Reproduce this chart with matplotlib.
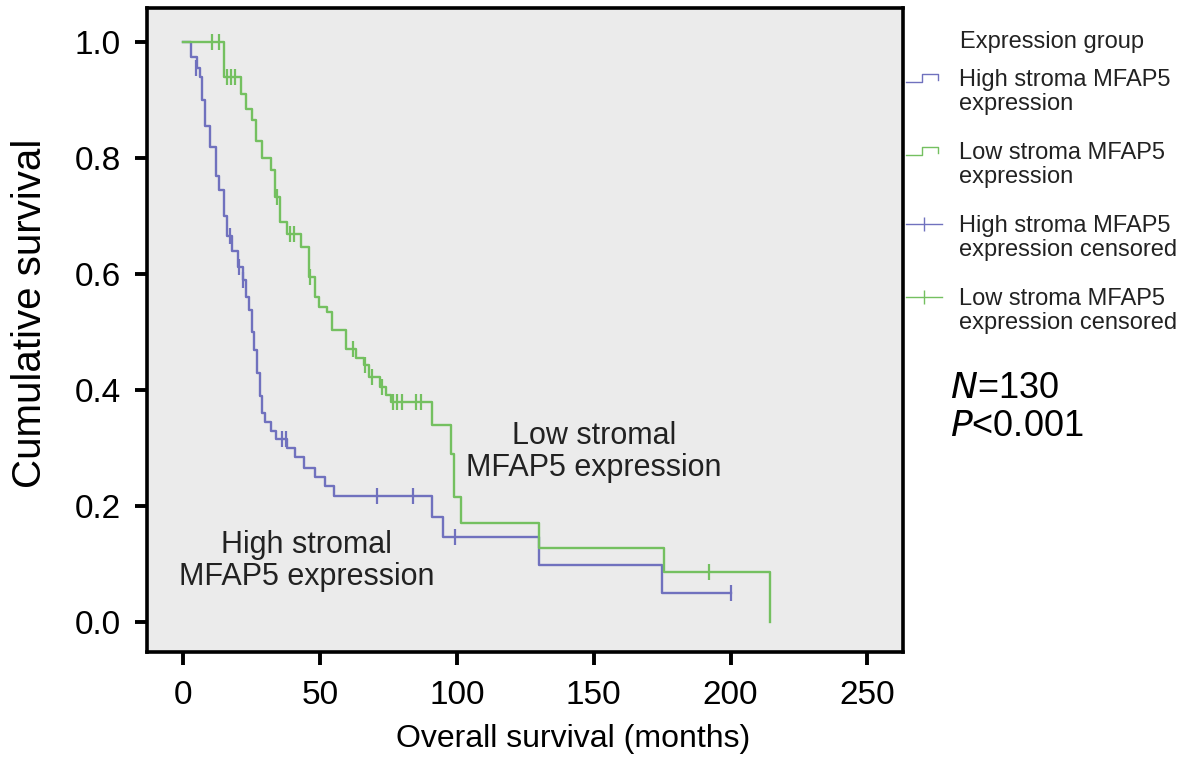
import matplotlib
matplotlib.use("Agg")
import matplotlib.pyplot as plt
from matplotlib.lines import Line2D
from matplotlib.legend_handler import HandlerBase

plt.rcParams['font.family'] = ['Liberation Sans', 'DejaVu Sans']

# Kaplan-Meier steps (months, survival after the step)
high_t = [0, 3, 5, 6, 7, 8, 10, 12, 13, 15, 16, 18, 20, 22, 23, 24, 25, 26, 27,
          28, 29, 30, 32, 34, 38, 41, 44, 48, 52, 55, 91, 95, 130, 175, 200]
high_s = [1.0, 0.975, 0.955, 0.94, 0.90, 0.855, 0.82, 0.77, 0.745, 0.70, 0.665,
          0.64, 0.612, 0.59, 0.56, 0.538, 0.50, 0.469, 0.43, 0.39, 0.36, 0.345,
          0.33, 0.315, 0.30, 0.285, 0.265, 0.25, 0.235, 0.217, 0.181, 0.147,
          0.098, 0.05, 0.05]
high_cens_t = [4.8, 17, 20.5, 22, 36, 37.5, 71, 84, 99.5, 200]
high_cens_s = [0.955, 0.665, 0.612, 0.59, 0.315, 0.315, 0.217, 0.217, 0.147, 0.05]

low_t = [0, 15, 21, 23, 25, 26.5, 29, 32, 33.5, 35.5, 38, 43, 46, 48, 49.5, 52.5,
         54.5, 59.5, 63, 66, 68, 72, 74, 76, 91, 98, 99, 101.5, 130, 175.5, 214.5]
low_s = [1.0, 0.94, 0.91, 0.885, 0.866, 0.83, 0.80, 0.78, 0.733, 0.69, 0.67,
         0.647, 0.595, 0.56, 0.543, 0.534, 0.503, 0.47, 0.455, 0.443, 0.422,
         0.405, 0.391, 0.379, 0.34, 0.29, 0.215, 0.171, 0.128, 0.086, 0.0]
low_cens_t = [10.5, 13, 16, 17.5, 19, 34.3, 39, 40.5, 46.5, 62, 66.5, 69, 72.7,
              76.5, 78, 80, 85, 87, 192]
low_cens_s = [1.0, 1.0, 0.94, 0.94, 0.94, 0.733, 0.67, 0.67, 0.595, 0.47, 0.443,
              0.422, 0.405, 0.379, 0.379, 0.379, 0.379, 0.379, 0.086]

legend_labels = ['High stroma MFAP5\nexpression', 'Low stroma MFAP5\nexpression',
                 'High stroma MFAP5\nexpression censored',
                 'Low stroma MFAP5\nexpression censored']

blue = '#7071be'
green = '#74c060'


class IconHandler(HandlerBase):
    # legend icon drawn level with the first text line, like SPSS does
    def __init__(self, kind):
        super().__init__()
        self.kind = kind

    def create_artists(self, legend, orig_handle, xdescent, ydescent,
                       width, height, fontsize, trans):
        c = orig_handle.get_color()
        y = height / 2 - ydescent + 0.6 * fontsize
        if self.kind == 'step':
            xs = [-xdescent, 0.45 * width, 0.45 * width, 0.9 * width, 0.9 * width]
            ys = [y - 3, y - 3, y + 3, y + 3, y - 1]
            ln = Line2D(xs, ys, color=c, lw=1.0, transform=trans)
            return [ln]
        ln = Line2D([-xdescent, width], [y, y], color=c, lw=1.0, transform=trans)
        mk = Line2D([0.5 * width], [y], color=c, marker='|', ms=10, mew=1.0,
                    ls='none', transform=trans)
        return [ln, mk]


fig = plt.figure(figsize=(11.94, 7.71), dpi=100)
ax = fig.add_axes([0.1231, 0.1543, 0.6332, 0.8353])
ax.set_facecolor('#ebebeb')

ax.step(high_t, high_s, where='post', color=blue, lw=1.7)
ax.step(low_t, low_s, where='post', color=green, lw=1.7)
ax.plot(high_cens_t, high_cens_s, ls='none', marker='|', ms=11, mew=1.6, color=blue)
ax.plot(low_cens_t, low_cens_s, ls='none', marker='|', ms=11, mew=1.6, color=green)

ax.set_xlim(-13.2, 263)
ax.set_ylim(-0.052, 1.059)
ax.set_xticks([0, 50, 100, 150, 200, 250])
ax.set_yticks([0.0, 0.2, 0.4, 0.6, 0.8, 1.0])
ax.set_yticklabels(['0.0', '0.2', '0.4', '0.6', '0.8', '1.0'])
ax.tick_params(labelsize=24, length=9, width=2.8, direction='out')
ax.tick_params(axis='x', pad=11)
ax.tick_params(axis='y', pad=10)
for sp in ax.spines.values():
    sp.set_linewidth(2.6)

ax.set_xlabel('Overall survival (months)', fontsize=23, va='top')
ax.xaxis.set_label_coords(0.563, -0.112)
ax.set_ylabel('Cumulative survival', fontsize=29)
ax.yaxis.set_label_coords(-0.130, 0.526)

ax.text(150, 0.293, 'Low stromal\nMFAP5 expression', fontsize=22, ha='center',
        va='center', color='#222222', linespacing=1.08)
ax.text(45, 0.105, 'High stromal\nMFAP5 expression', fontsize=22, ha='center',
        va='center', color='#222222', linespacing=1.1)

handles = [
    Line2D([], [], color=blue),
    Line2D([], [], color=green),
    Line2D([], [], color=blue, marker='|'),
    Line2D([], [], color=green, marker='|'),
]
handler_map = {handles[0]: IconHandler('step'), handles[1]: IconHandler('step'),
               handles[2]: IconHandler('cens'), handles[3]: IconHandler('cens')}
leg = fig.legend(handles, legend_labels, loc='upper left',
                 bbox_to_anchor=(0.759, 0.91), frameon=False, fontsize=17,
                 handlelength=1.5, handletextpad=0.75, labelspacing=1.15,
                 handler_map=handler_map, borderaxespad=0, borderpad=0)
for t in leg.get_texts():
    t.set_linespacing(1.1)
    t.set_color('#222222')

fig.text(960 / 1194, 1 - 42 / 771, 'Expression group', fontsize=17, va='center',
         color='#222222')
fig.text(950 / 1194, 1 - 388 / 771, r'$\mathit{N}$=130', fontsize=26, va='center')
fig.text(950 / 1194, 1 - 426 / 771, r'$\mathit{P}$<0.001', fontsize=26, va='center')

fig.savefig('out.png', dpi=100)
